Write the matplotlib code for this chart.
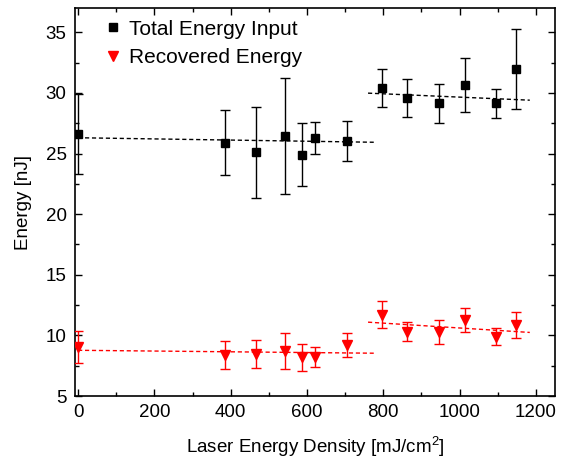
import numpy as np
import matplotlib
matplotlib.use('Agg')
import matplotlib.pyplot as plt
from matplotlib.ticker import MultipleLocator
from matplotlib.lines import Line2D

plt.rcParams['font.family'] = ['Liberation Sans', 'DejaVu Sans']
plt.rcParams['mathtext.fontset'] = 'custom'
plt.rcParams['mathtext.rm'] = 'Liberation Sans'
plt.rcParams['mathtext.it'] = 'Liberation Sans:italic'

# data
density = [0, 384, 467, 543, 588, 622, 704, 796, 861, 945, 1014, 1095, 1147]
total = [26.6, 25.9, 25.1, 26.45, 24.9, 26.3, 26.0, 30.4, 29.6, 29.15, 30.65, 29.15, 32.0]
total_err = [3.3, 2.7, 3.75, 4.8, 2.6, 1.3, 1.65, 1.6, 1.55, 1.6, 2.25, 1.2, 3.3]
recovered = [9.05, 8.4, 8.45, 8.7, 8.2, 8.2, 9.2, 11.7, 10.3, 10.3, 11.25, 9.9, 10.85]
recovered_err = [1.3, 1.15, 1.17, 1.5, 1.1, 0.83, 1.0, 1.1, 0.8, 1.0, 0.97, 0.67, 1.1]

# linear fits (intercept, slope) and their ranges
fit_range_low = [0, 775]
fit_range_high = [760, 1184]
total_fit_low = [26.3, -0.00048]
total_fit_high = [31.02, -0.00137]
rec_fit_low = [8.77, -0.00031]
rec_fit_high = [12.61, -0.0020]

fig = plt.figure(figsize=(5.62, 4.63), dpi=100)
ax = fig.add_axes([0.1335, 0.1447, 0.854, 0.838])

ax.errorbar(density, total, yerr=total_err, fmt='s', color='black', markersize=6,
            elinewidth=1, capsize=3.5, capthick=1, zorder=3)
ax.errorbar(density, recovered, yerr=recovered_err, fmt='v', color='red', markersize=7,
            elinewidth=1, capsize=3.5, capthick=1, zorder=3)

for rng, (b, m), c in [(fit_range_low, total_fit_low, 'black'),
                       (fit_range_high, total_fit_high, 'black'),
                       (fit_range_low, rec_fit_low, 'red'),
                       (fit_range_high, rec_fit_high, 'red')]:
    xs = np.array(rng)
    ax.plot(xs, b + m * xs, linestyle=(0, (3, 2)), color=c, linewidth=1, zorder=2)

ax.set_xlim(-8, 1250)
ax.set_ylim(5, 37)
ax.xaxis.set_major_locator(MultipleLocator(200))
ax.xaxis.set_minor_locator(MultipleLocator(100))
ax.yaxis.set_major_locator(MultipleLocator(5))
ax.yaxis.set_minor_locator(MultipleLocator(2.5))
ax.tick_params(which='both', direction='in', top=True, right=True, labelsize=13.5)
ax.tick_params(which='major', length=5, width=1, pad=6)
ax.tick_params(which='minor', length=3, width=1)
for s in ax.spines.values():
    s.set_linewidth(1.2)

ax.set_xlabel('Laser Energy Density [mJ/cm$^2$]', fontsize=13.5, labelpad=10)
ax.set_ylabel('Energy [nJ]', fontsize=13.5, labelpad=10)

handles = [Line2D([], [], marker='s', color='black', linestyle='none', markersize=6),
           Line2D([], [], marker='v', color='red', linestyle='none', markersize=7)]
ax.legend(handles, ['Total Energy Input', 'Recovered Energy'], loc='upper left',
          bbox_to_anchor=(0.06, 0.97), frameon=False, fontsize=15,
          handletextpad=0.3, handlelength=0.9, borderaxespad=0, borderpad=0,
          labelspacing=0.45)

fig.savefig('out.png', dpi=100)
